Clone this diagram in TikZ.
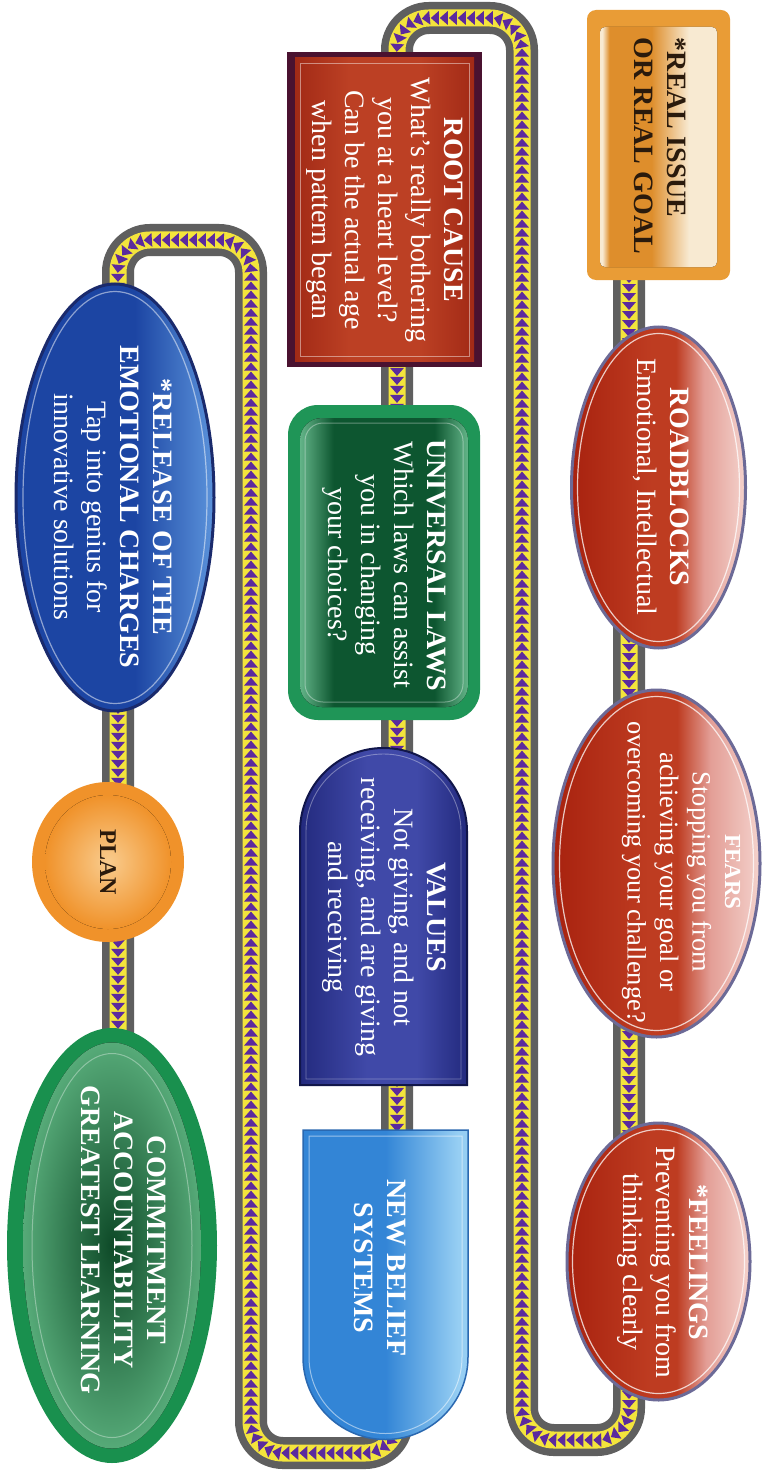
\documentclass[tikz,border=0pt]{standalone}
\usepackage{fontspec}
\setmainfont{Liberation Serif}
\usetikzlibrary{shapes.geometric,decorations.markings}

% rope colours
\definecolor{ropegray}{HTML}{5F5F5F}
\definecolor{ropeyellow}{HTML}{F3E43C}
\definecolor{ropepurple}{HTML}{5B2A9E}
% box colours
\definecolor{goldrim}{HTML}{E99C36}
\definecolor{goldbody}{HTML}{DE8E2C}
\definecolor{goldlight}{HTML}{F8EAD2}
\definecolor{inkdark}{HTML}{2A1A0C}
\definecolor{redA}{HTML}{A8220F}
\definecolor{redB}{HTML}{BE3C21}
\definecolor{redC}{HTML}{E39E96}
\definecolor{redD}{HTML}{F4D2CC}
\definecolor{ovalrim}{HTML}{6C6A97}
\definecolor{rootrim}{HTML}{4A1230}
\definecolor{rootA}{HTML}{A22A16}
\definecolor{rootB}{HTML}{BC4024}
\definecolor{lawrim}{HTML}{1F9557}
\definecolor{lawdark}{HTML}{0D5630}
\definecolor{lawlight}{HTML}{63B488}
\definecolor{valA}{HTML}{232A7E}
\definecolor{valB}{HTML}{4049A8}
\definecolor{valrim}{HTML}{11164A}
\definecolor{skyA}{HTML}{3385D6}
\definecolor{skyB}{HTML}{96CEF3}
\definecolor{skyrim}{HTML}{2A68B0}
\definecolor{relA}{HTML}{1C45A3}
\definecolor{relB}{HTML}{5B93DB}
\definecolor{relrim}{HTML}{1A2A6C}
\definecolor{planrim}{HTML}{F0922A}
\definecolor{planin}{HTML}{F9CC8E}
\definecolor{comrim}{HTML}{19904E}
\definecolor{comdark}{HTML}{0E4A28}
\definecolor{comlight}{HTML}{56AA78}

% shadings (the band 25bp..75bp covers the filled shape)
\pgfdeclarehorizontalshading{goldglow}{100bp}{color(0bp)=(goldlight); color(26bp)=(goldlight); color(29bp)=(goldbody); color(47bp)=(goldbody); color(63bp)=(goldlight); color(100bp)=(goldlight)}
\pgfdeclarehorizontalshading{redglass}{100bp}{color(0bp)=(redA); color(25bp)=(redA); color(48bp)=(redB); color(55bp)=(redB); color(63bp)=(redC); color(75bp)=(redD); color(100bp)=(redD)}
\pgfdeclarehorizontalshading{lawglass}{100bp}{color(0bp)=(lawlight); color(25bp)=(lawlight); color(35bp)=(lawdark); color(65bp)=(lawdark); color(75bp)=(lawlight); color(100bp)=(lawlight)}
\pgfdeclarehorizontalshading{valglass}{100bp}{color(0bp)=(valA); color(25bp)=(valA); color(45bp)=(valB); color(60bp)=(valB); color(75bp)=(valA); color(100bp)=(valA)}
\pgfdeclarehorizontalshading{skyglass}{100bp}{color(0bp)=(skyA); color(25bp)=(skyA); color(50bp)=(skyA); color(72bp)=(skyB); color(100bp)=(skyB)}
\pgfdeclarehorizontalshading{relglass}{100bp}{color(0bp)=(relA); color(25bp)=(relA); color(55bp)=(relA); color(75bp)=(relB); color(100bp)=(relB)}
\pgfdeclarehorizontalshading{rootglass}{100bp}{color(0bp)=(rootA); color(25bp)=(rootA); color(40bp)=(rootB); color(60bp)=(rootB); color(75bp)=(rootA); color(100bp)=(rootA)}

\tikzset{
  ropebase/.style={draw=ropegray, line width=32pt, rounded corners=32pt},
  ropeband/.style={draw=ropeyellow, line width=17pt, rounded corners=32pt},
  ropeteeth/.style={rounded corners=32pt,
      decoration={markings,
        mark=between positions 0 and 1 step 9pt with
          {\fill[ropepurple, sharp corners] (4pt,0pt) -- (-4pt,7pt) -- (-4pt,-7pt) -- cycle;}},
      postaction={decorate}},
  redoval/.style={ellipse, shading=redglass, draw=ovalrim, line width=3pt, inner sep=0pt},
  glint/.style={draw=white, line width=1.2pt, opacity=.75},
  lbl/.style={rotate=-90, align=center, text=white, inner sep=0pt,
      font=\fontsize{28}{33}\selectfont},
}

\newcommand{\ropetrack}{(r0) -- (r1) -- (r2) -- (r3) -- (r4) -- (r5) -- (r6) -- (r7) -- (r8) -- (r9)}

\begin{document}
\begin{tikzpicture}[x=1pt, y=-1pt]
\useasboundingbox (0,0) rectangle (761,1471);
\fill[white] (0,0) rectangle (761,1471);

% turning points of the rope
\coordinate (r0) at (629,270);
\coordinate (r1) at (629,1440);
\coordinate (r2) at (522,1440);
\coordinate (r3) at (522,18);
\coordinate (r4) at (397,18);
\coordinate (r5) at (397,1453);
\coordinate (r6) at (251,1453);
\coordinate (r7) at (251,240);
\coordinate (r8) at (118,240);
\coordinate (r9) at (118,1050);

% the rope
\draw[ropebase] \ropetrack;
\draw[ropeband] \ropetrack;
\path[ropeteeth] \ropetrack;

% ---- right column ----
\node[fill=goldrim, rounded corners=9pt, minimum width=143pt, minimum height=270pt, inner sep=0pt] (real) at (658.5,145) {};
\fill[shading=goldglow, rounded corners=5pt] (600,27) rectangle (717,267);
\node[lbl, text=inkdark, align=left] (realtext) at (660,146) {\textbf{*REAL ISSUE}\\\textbf{OR REAL GOAL}};

\node[redoval, minimum width=174pt, minimum height=321pt] (roadblocks) at (658.5,487.5) {};
\draw[glint] (roadblocks.center) ellipse [x radius=81, y radius=154];
\node[lbl] (roadtext) at (661,487) {\textbf{ROADBLOCKS}\\Emotional, Intellectual};

\node[redoval, minimum width=207pt, minimum height=347pt] (fears) at (656.5,863.5) {};
\draw[glint] (fears.center) ellipse [x radius=97, y radius=167];
\node[lbl, font=\fontsize{26.5}{32.5}\selectfont] (fearstext) at (681,872) {{\fontsize{23}{30}\selectfont\textbf{FEARS}}\\Stopping you from\\achieving your goal or\\overcoming your challenge?};

\node[redoval, minimum width=183pt, minimum height=277pt] (feelings) at (658.5,1261.5) {};
\draw[glint] (feelings.center) ellipse [x radius=86, y radius=132];
\node[lbl] (feeltext) at (663,1262) {\textbf{*FEELINGS}\\Preventing you from\\thinking clearly};

% ---- middle column ----
\node[fill=rootrim, minimum width=195pt, minimum height=315pt, inner sep=0pt] (root) at (384.5,209.5) {};
\fill[shading=rootglass] (295,58) rectangle (474,361);
\draw[white, opacity=.45, line width=.9pt] (300,63) rectangle (469,356);
\node[lbl] (roottext) at (385,210) {\textbf{ROOT CAUSE}\\What's really bothering\\you at a heart level?\\Can be the actual age\\when pattern began};

\node[fill=lawrim, rounded corners=30pt, minimum width=192pt, minimum height=315pt, inner sep=0pt] (laws) at (384,562.5) {};
\fill[shading=lawglass, rounded corners=22pt] (300,418) rectangle (468,707);
\draw[white, opacity=.35, line width=1pt, rounded corners=18pt] (305,423) rectangle (463,702);
\node[lbl] (lawstext) at (384,565) {\textbf{UNIVERSAL LAWS}\\Which laws can assist\\you in changing\\your choices?};

\draw[valrim, line width=2pt, shading=valglass] (300,1085) -- (300,831.5) arc (180:360:83.5) -- (467,1085) -- cycle;
\draw[white, opacity=.35, line width=.9pt] (306,1079) -- (306,831.5) arc (180:360:77.5) -- (461,1079) -- cycle;
\node[lbl] (valuestext) at (384,917) {\textbf{VALUES}\\Not giving, and not\\receiving, and are giving\\and receiving};

\draw[skyrim, line width=1.5pt, shading=skyglass] (303,1130) -- (303,1357) arc (180:0:82.5) -- (468,1130) -- cycle;
\draw[white, opacity=.5, line width=1pt] (309,1136) -- (309,1357) arc (180:0:76.5) -- (462,1136) -- cycle;
\node[lbl] (belieftext) at (380,1268) {\textbf{NEW BELIEF}\\\textbf{SYSTEMS}};

% ---- left column ----
\node[ellipse, shading=relglass, draw=relrim, line width=3pt, minimum width=198pt, minimum height=427pt, inner sep=0pt] (release) at (115,497.5) {};
\draw[glint, opacity=.5] (release.center) ellipse [x radius=92, y radius=206];
\node[lbl] (releasetext) at (113,507) {\textbf{*RELEASE OF THE}\\\textbf{EMOTIONAL CHARGES}\\Tap into genius for\\innovative solutions};

\node[ellipse, fill=planrim, minimum width=152pt, minimum height=160pt, inner sep=0pt] (plan) at (108,862) {};
\fill[inner color=planin, outer color=planrim] (plan.center) ellipse [x radius=63, y radius=67];
\node[lbl, text=inkdark, font=\fontsize{24}{28}\selectfont\bfseries] (plantext) at (108,862) {PLAN};

\node[ellipse, fill=comrim, minimum width=210pt, minimum height=435pt, inner sep=0pt] (commit) at (112,1245.5) {};
\fill[inner color=comdark, outer color=comlight] (commit.center) ellipse [x radius=89, y radius=203];
\draw[white, opacity=.35, line width=1pt] (commit.center) ellipse [x radius=80, y radius=192];
\node[lbl] (committext) at (124,1240) {\textbf{COMMITMENT}\\\textbf{ACCOUNTABILITY}\\\textbf{GREATEST LEARNING}};
\end{tikzpicture}
\end{document}
